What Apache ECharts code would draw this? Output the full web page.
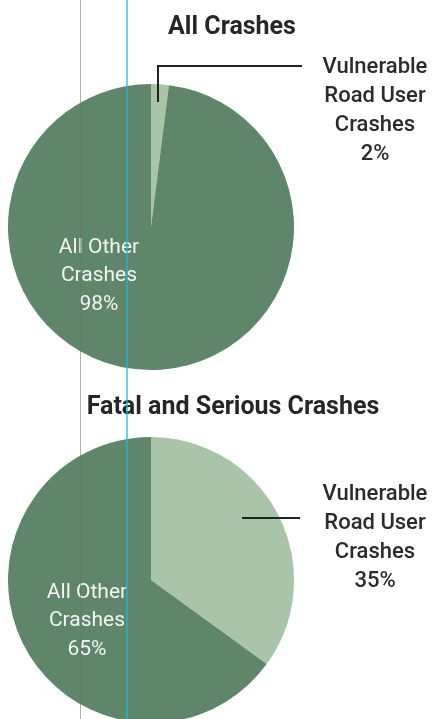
<!DOCTYPE html>
<html>
<head>
<meta charset="utf-8">
<script src="https://cdn.jsdelivr.net/npm/echarts@6/dist/echarts.min.js"></script>
<style>
  html, body { margin: 0; padding: 0; background: #fff; }
  #chart { width: 433px; height: 719px; }
</style>
</head>
<body>
<div id="chart"></div>
<script>
// data
const chartTitles = ['All Crashes', 'Fatal and Serious Crashes'];
const sliceNames = ['Vulnerable\nRoad User\nCrashes', 'All Other\nCrashes'];
const allCrashes = [2, 98];
const fatalSerious = [35, 65];

const darkGreen = '#5f866a';
const lightGreen = '#aac4a9';
const font = 'Roboto, "Noto Sans", sans-serif';

// where each label block sits (series -> [vulnerable, other])
const labelSpots = [
  [{ x: 375, y: 53, color: '#2b2b2b' }, { x: 99, y: 233, color: '#f4f6f2' }],
  [{ x: 375, y: 480, color: '#2b2b2b' }, { x: 87, y: 578, color: '#f4f6f2' }]
];

const chart = echarts.init(document.getElementById('chart'));

const makePie = (values, idx, cy) => ({
  type: 'pie',
  center: [151, cy],
  radius: 143,
  startAngle: 90,
  clockwise: true,
  silent: true,
  animation: false,
  labelLine: { show: false },
  data: values.map((v, i) => ({
    value: v,
    name: sliceNames[i],
    itemStyle: { color: i === 0 ? lightGreen : darkGreen },
    label: {
      show: true,
      position: 'inside',
      overflow: 'none',
      formatter: '{b}\n{c}%',
      fontFamily: font,
      fontSize: i === 0 ? 22 : 21,
      fontWeight: i === 0 ? 500 : 400,
      lineHeight: i === 0 ? 29 : 28.5,
      color: labelSpots[idx][i].color,
      align: 'center'
    }
  })),
  labelLayout: (p) => {
    const spot = labelSpots[idx][p.dataIndex];
    return { x: spot.x, y: spot.y, align: 'center', verticalAlign: 'top' };
  }
});

const titleStyle = { fontFamily: font, fontSize: 25, fontWeight: 'bold', color: '#262626' };

chart.setOption({
  backgroundColor: '#ffffff',
  title: [
    { text: chartTitles[0], left: 227, top: 10, textAlign: 'center', textStyle: titleStyle },
    { text: chartTitles[1], left: 228, top: 390, textAlign: 'center', textStyle: titleStyle }
  ],
  series: [
    makePie(allCrashes, 0, 227),
    makePie(fatalSerious, 1, 580)
  ],
  graphic: [
    // leader lines
    {
      type: 'polyline', z: 50,
      shape: { points: [[158, 102], [158, 66], [302, 66]] },
      style: { stroke: '#222', lineWidth: 2, fill: null }
    },
    {
      type: 'line', z: 50,
      shape: { x1: 242, y1: 518, x2: 300, y2: 518 },
      style: { stroke: '#222', lineWidth: 2 }
    },
    // scan guide lines
    {
      type: 'line', z: 60,
      shape: { x1: 80.5, y1: 0, x2: 80.5, y2: 719 },
      style: { stroke: 'rgba(110,110,110,0.55)', lineWidth: 1 }
    },
    {
      type: 'line', z: 60,
      shape: { x1: 127, y1: 0, x2: 127, y2: 719 },
      style: { stroke: 'rgba(20,190,220,0.85)', lineWidth: 1.5 }
    }
  ]
});

window.addEventListener('resize', () => chart.resize());
</script>
</body>
</html>
